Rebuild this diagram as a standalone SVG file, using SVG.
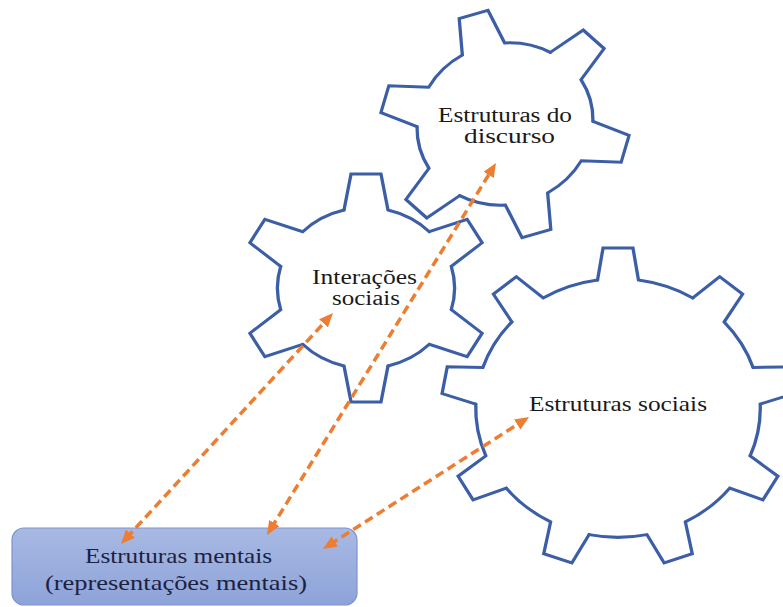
<svg xmlns="http://www.w3.org/2000/svg" xmlns:xlink="http://www.w3.org/1999/xlink" width="783" height="607" viewBox="0 0 783 607">
  <style>
    .gear { fill: none; stroke: #3B5EA6; stroke-width: 3; stroke-linecap: round; stroke-linejoin: miter; }
    .lbl { font-family: "Liberation Serif", "Times New Roman", serif; font-size: 20px; fill: #1a1a1a; }
    .lbl1 { font-family: "Liberation Serif", "Times New Roman", serif; font-size: 22px; fill: #1a1a1a; }
    .boxlbl { font-family: "Liberation Serif", "Times New Roman", serif; font-size: 22px; fill: #1d2140; }
    .conn { fill: none; stroke: #ED7D31; stroke-width: 3.5; stroke-dasharray: 9 5; marker-start: url(#head); marker-end: url(#head); }
  </style>
  <defs>
    <path id="g6seg" d="M -20,-78 L -13.6,-114 L 13.6,-114 L 20,-78 A 80.5 80.5 0 0 1 57.55,-56.32"/>
    <path id="g9seg" d="M -18.6,-128 L -13.6,-160 L 13.6,-160 L 18.6,-128 A 129.3 129.3 0 0 1 68.03,-110.01"/>
    <marker id="head" viewBox="0 0 14 12" refX="6" refY="6" markerWidth="14" markerHeight="12" markerUnits="userSpaceOnUse" orient="auto-start-reverse">
      <path d="M0,0 L14,6 L0,12 z" fill="#ED7D31"/>
    </marker>
    <linearGradient id="boxfill" x1="0" y1="0" x2="0" y2="1">
      <stop offset="0" stop-color="#A8B9E3"/>
      <stop offset="1" stop-color="#8DA3D9"/>
    </linearGradient>
  </defs>

  <g id="gear-discurso">
    <g class="gear" transform="translate(505,124) rotate(-16) scale(1.1,1)">
      <use xlink:href="#g6seg"/>
      <use xlink:href="#g6seg" transform="rotate(60)"/>
      <use xlink:href="#g6seg" transform="rotate(120)"/>
      <use xlink:href="#g6seg" transform="rotate(180)"/>
      <use xlink:href="#g6seg" transform="rotate(240)"/>
      <use xlink:href="#g6seg" transform="rotate(300)"/>
    </g>
    <text class="lbl" x="438" y="121.5" textLength="134" lengthAdjust="spacingAndGlyphs">Estruturas do</text>
    <text class="lbl" x="464" y="143.3" textLength="91" lengthAdjust="spacingAndGlyphs">discurso</text>
  </g>

  <g id="gear-interacoes">
    <g class="gear" transform="translate(366,288) scale(1.1,1)">
      <use xlink:href="#g6seg"/>
      <use xlink:href="#g6seg" transform="rotate(60)"/>
      <use xlink:href="#g6seg" transform="rotate(120)"/>
      <use xlink:href="#g6seg" transform="rotate(180)"/>
      <use xlink:href="#g6seg" transform="rotate(240)"/>
      <use xlink:href="#g6seg" transform="rotate(300)"/>
    </g>
    <text class="lbl" x="312" y="283.5" textLength="105" lengthAdjust="spacingAndGlyphs">Interações</text>
    <text class="lbl" x="332" y="305" textLength="68" lengthAdjust="spacingAndGlyphs">sociais</text>
  </g>

  <g id="gear-sociais">
    <g class="gear" transform="translate(618,408) scale(1.1,1)">
      <use xlink:href="#g9seg"/>
      <use xlink:href="#g9seg" transform="rotate(40)"/>
      <use xlink:href="#g9seg" transform="rotate(80)"/>
      <use xlink:href="#g9seg" transform="rotate(120)"/>
      <use xlink:href="#g9seg" transform="rotate(160)"/>
      <use xlink:href="#g9seg" transform="rotate(200)"/>
      <use xlink:href="#g9seg" transform="rotate(240)"/>
      <use xlink:href="#g9seg" transform="rotate(280)"/>
      <use xlink:href="#g9seg" transform="rotate(320)"/>
    </g>
    <text class="lbl1" x="529" y="411" textLength="178" lengthAdjust="spacingAndGlyphs">Estruturas sociais</text>
  </g>

  <g id="box-mentais">
    <rect x="12" y="528" width="345" height="77" rx="12" ry="12" fill="url(#boxfill)" stroke="#7D93CC" stroke-width="1.2"/>
    <text class="boxlbl" x="85" y="563" textLength="187" lengthAdjust="spacingAndGlyphs">Estruturas mentais</text>
    <text class="boxlbl" x="45" y="590" textLength="262" lengthAdjust="spacingAndGlyphs">(representações mentais)</text>
  </g>

  <g id="connectors">
    <line class="conn" x1="126.4" y1="538.1" x2="327.6" y2="318.9"/>
    <line class="conn" x1="271.2" y1="528.2" x2="491.8" y2="169.8"/>
    <line class="conn" x1="329.7" y1="544.7" x2="522.3" y2="421.3"/>
  </g>
</svg>
